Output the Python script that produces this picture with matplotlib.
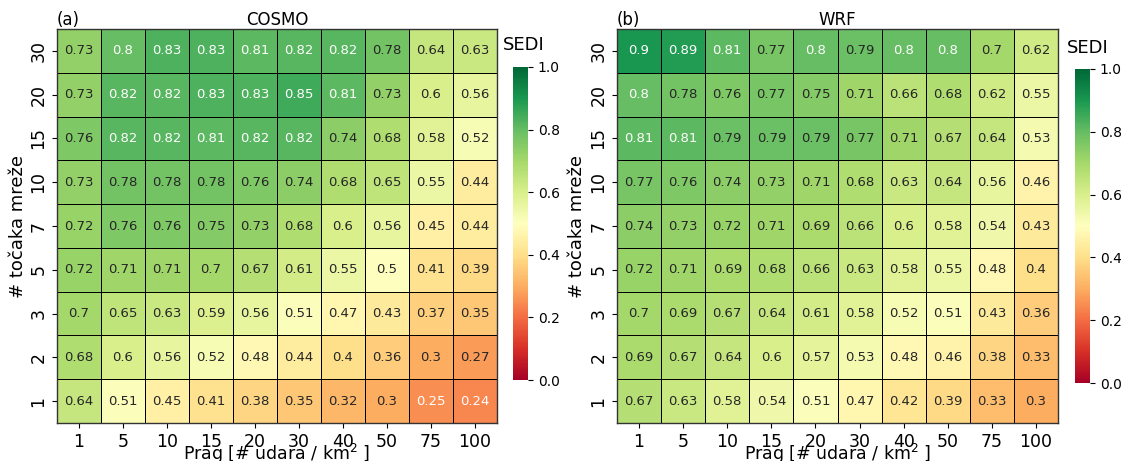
import numpy as np
import matplotlib
matplotlib.use("Agg")
import matplotlib.pyplot as plt
import seaborn as sns

thresholds = ["1", "5", "10", "15", "20", "30", "40", "50", "75", "100"]
grid_points = ["30", "20", "15", "10", "7", "5", "3", "2", "1"]

cosmo = [
    [0.73, 0.80, 0.83, 0.83, 0.81, 0.82, 0.82, 0.78, 0.64, 0.63],
    [0.73, 0.82, 0.82, 0.83, 0.83, 0.85, 0.81, 0.73, 0.60, 0.56],
    [0.76, 0.82, 0.82, 0.81, 0.82, 0.82, 0.74, 0.68, 0.58, 0.52],
    [0.73, 0.78, 0.78, 0.78, 0.76, 0.74, 0.68, 0.65, 0.55, 0.44],
    [0.72, 0.76, 0.76, 0.75, 0.73, 0.68, 0.60, 0.56, 0.45, 0.44],
    [0.72, 0.71, 0.71, 0.70, 0.67, 0.61, 0.55, 0.50, 0.41, 0.39],
    [0.70, 0.65, 0.63, 0.59, 0.56, 0.51, 0.47, 0.43, 0.37, 0.35],
    [0.68, 0.60, 0.56, 0.52, 0.48, 0.44, 0.40, 0.36, 0.30, 0.27],
    [0.64, 0.51, 0.45, 0.41, 0.38, 0.35, 0.32, 0.30, 0.25, 0.24],
]
wrf = [
    [0.90, 0.89, 0.81, 0.77, 0.80, 0.79, 0.80, 0.80, 0.70, 0.62],
    [0.80, 0.78, 0.76, 0.77, 0.75, 0.71, 0.66, 0.68, 0.62, 0.55],
    [0.81, 0.81, 0.79, 0.79, 0.79, 0.77, 0.71, 0.67, 0.64, 0.53],
    [0.77, 0.76, 0.74, 0.73, 0.71, 0.68, 0.63, 0.64, 0.56, 0.46],
    [0.74, 0.73, 0.72, 0.71, 0.69, 0.66, 0.60, 0.58, 0.54, 0.43],
    [0.72, 0.71, 0.69, 0.68, 0.66, 0.63, 0.58, 0.55, 0.48, 0.40],
    [0.70, 0.69, 0.67, 0.64, 0.61, 0.58, 0.52, 0.51, 0.43, 0.36],
    [0.69, 0.67, 0.64, 0.60, 0.57, 0.53, 0.48, 0.46, 0.38, 0.33],
    [0.67, 0.63, 0.58, 0.54, 0.51, 0.47, 0.42, 0.39, 0.33, 0.30],
]

W, H = 1121, 461
fig = plt.figure(figsize=(W / 100, H / 100), dpi=100)

def fx(px):
    return px / W

def fy(py):
    return 1 - py / H

panels = [
    dict(data=cosmo, title="COSMO", tag="(a)", ax=(57, 29, 497, 423), cb=(513, 67, 528, 380), sedi=(503, 45)),
    dict(data=wrf, title="WRF", tag="(b)", ax=(617, 29, 1058, 423), cb=(1075, 69, 1090, 383), sedi=(1067, 48)),
]

for p in panels:
    x0, y0, x1, y1 = p["ax"]
    ax = fig.add_axes([fx(x0), fy(y1), fx(x1 - x0), (y1 - y0) / H])
    c0, cy0, c1, cy1 = p["cb"]
    cax = fig.add_axes([fx(c0), fy(cy1), fx(c1 - c0), (cy1 - cy0) / H])
    sns.heatmap(np.array(p["data"]), ax=ax, cbar_ax=cax, cmap="RdYlGn", vmin=0, vmax=1,
                annot=True, fmt="g", annot_kws={"fontsize": 9.5},
                linewidths=0.6, linecolor="black",
                xticklabels=thresholds, yticklabels=grid_points)
    ax.tick_params(axis="both", labelsize=12.5, length=3.5)
    ax.set_yticklabels(grid_points, rotation=90, va="center")
    ax.set_xticklabels(thresholds, rotation=0)
    ax.set_xlabel("Prag [# udara / km$^2$ ]", fontsize=12.5, labelpad=-6)
    ax.set_ylabel("# točaka mreže", fontsize=13, labelpad=2)
    ax.set_title(p["title"], fontsize=12, pad=2)
    ax.set_title(p["tag"], fontsize=12, pad=2, loc="left")
    for s in ax.spines.values():
        s.set_visible(True)
        s.set_color("#333333")
        s.set_linewidth(1)
    cax.tick_params(labelsize=10, length=3.5)
    cax.set_yticks([0, 0.2, 0.4, 0.6, 0.8, 1.0])
    cax.set_yticklabels(["0.0", "0.2", "0.4", "0.6", "0.8", "1.0"])
    sx, sy = p["sedi"]
    fig.text(fx(sx), fy(sy), "SEDI", fontsize=13, ha="left", va="center")

fig.savefig("out.png", dpi=100)
